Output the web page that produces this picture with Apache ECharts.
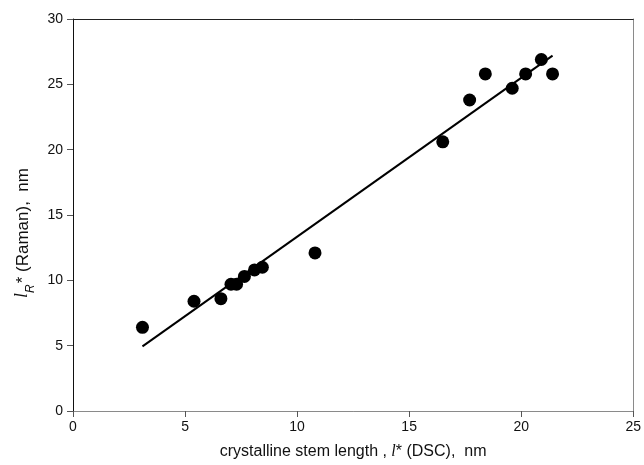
<!DOCTYPE html>
<html>
<head>
<meta charset="utf-8">
<script src="https://cdn.jsdelivr.net/npm/echarts@6/dist/echarts.min.js"></script>
<style>html,body{margin:0;padding:0;background:#fff}#c{width:644px;height:465px}</style>
</head>
<body>
<div id="c"></div>
<script>
// Data
var dscL = [3.1, 5.4, 6.6, 7.05, 7.3, 7.65, 8.1, 8.45, 10.8, 16.5, 17.7, 18.4, 19.6, 20.2, 20.9, 21.4];
var ramanL = [6.4, 8.4, 8.6, 9.7, 9.7, 10.3, 10.8, 11.0, 12.1, 20.6, 23.8, 25.8, 24.7, 25.8, 26.9, 25.8];
var fitX = [3.1, 21.4];
var fitY = [4.95, 27.2];
var xTicks = [0, 5, 10, 15, 20, 25];
var yTicks = [0, 5, 10, 15, 20, 25, 30];

var pts = dscL.map(function (x, i) { return [x, ramanL[i]]; });
var fit = fitX.map(function (x, i) { return [x, fitY[i]]; });

var font = 'Liberation Sans, Arial, sans-serif';
var chart = echarts.init(document.getElementById('c'), null, {renderer: 'canvas'});
chart.setOption({
  animation: false,
  backgroundColor: '#fff',
  grid: {left: 73, right: 8, top: 19, bottom: 53, containLabel: false},
  xAxis: [{
    type: 'value', min: xTicks[0], max: xTicks[xTicks.length - 1], interval: 5,
    position: 'bottom',
    axisLine: {show: true, onZero: false, lineStyle: {color: '#8a8a8a', width: 1}},
    axisTick: {show: true, inside: false, length: 6, lineStyle: {color: '#555'}},
    axisLabel: {color: '#111', fontFamily: font, fontSize: 14, margin: 9},
    splitLine: {show: false},
    name: 'crystalline stem length , {i|l}* (DSC),  nm',
    nameLocation: 'middle', nameGap: 33,
    nameTextStyle: {color: '#111', fontFamily: font, fontSize: 16,
      rich: {i: {fontStyle: 'italic', fontFamily: 'Liberation Serif, serif', fontSize: 16, color: '#111'}}}
  }, {
    type: 'value', min: 0, max: 25, position: 'top',
    axisLine: {show: true, onZero: false, lineStyle: {color: '#222', width: 1}},
    axisTick: {show: false}, axisLabel: {show: false}, splitLine: {show: false}
  }],
  yAxis: [{
    type: 'value', min: yTicks[0], max: yTicks[yTicks.length - 1], interval: 5,
    position: 'left',
    axisLine: {show: true, onZero: false, lineStyle: {color: '#111', width: 1}},
    axisTick: {show: true, inside: false, length: 6, lineStyle: {color: '#555'}},
    axisLabel: {color: '#111', fontFamily: font, fontSize: 14, margin: 10},
    splitLine: {show: false},
    name: '{i|l}{sub|R}{n|* (Raman),  nm}',
    nameLocation: 'middle', nameGap: 32, nameRotate: 90,
    nameTextStyle: {color: '#111', fontFamily: font, fontSize: 17, padding: [0, 36, 0, 0],
      rich: {
        i: {fontStyle: 'italic', fontFamily: 'Liberation Serif, serif', fontSize: 18, color: '#111', lineHeight: 21, verticalAlign: 'bottom'},
        sub: {fontStyle: 'italic', fontFamily: font, fontSize: 12, color: '#111', lineHeight: 21, verticalAlign: 'bottom', padding: [0, 1, -5, 0]},
        n: {fontFamily: font, fontSize: 17, color: '#111', lineHeight: 21, verticalAlign: 'bottom'}
      }}
  }, {
    type: 'value', min: 0, max: 30, position: 'right',
    axisLine: {show: true, onZero: false, lineStyle: {color: '#8a8a8a', width: 1}},
    axisTick: {show: false}, axisLabel: {show: false}, splitLine: {show: false}
  }],
  series: [{
    type: 'line', data: fit, showSymbol: false, symbol: 'none',
    lineStyle: {color: '#000', width: 2}, z: 2
  }, {
    type: 'scatter', data: pts, symbol: 'circle', symbolSize: 13,
    itemStyle: {color: '#000', opacity: 1}, z: 3
  }]
});
</script>
</body>
</html>
